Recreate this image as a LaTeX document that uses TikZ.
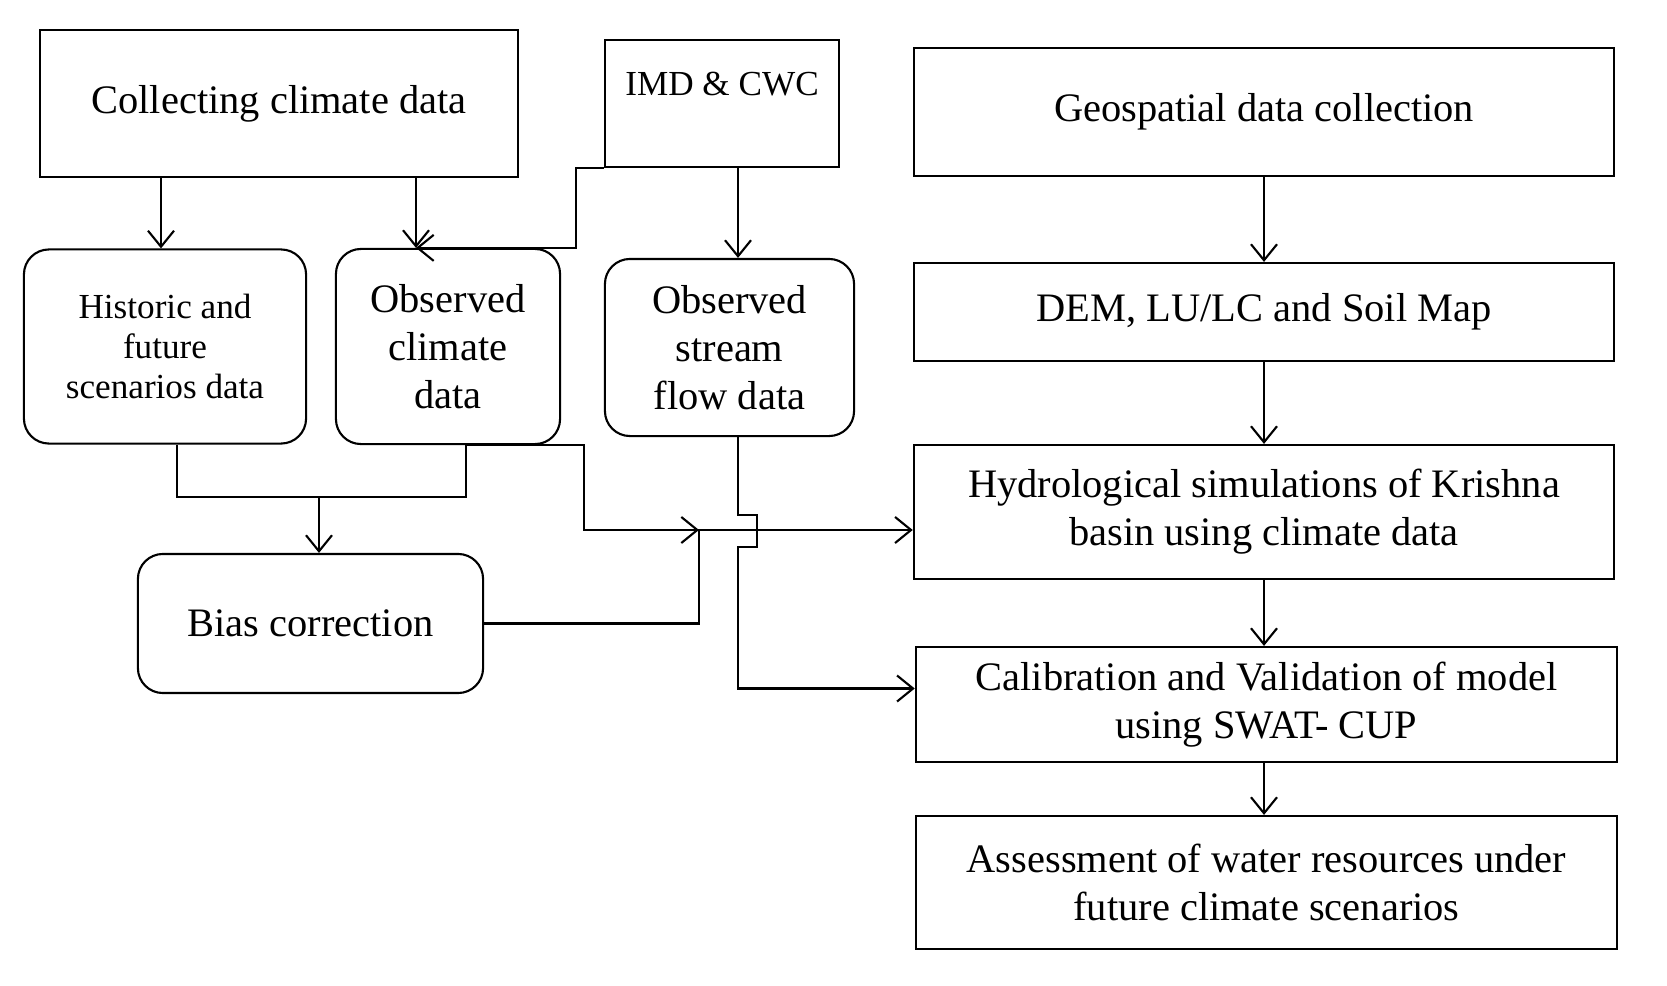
\documentclass[tikz,border=0pt]{standalone}
\usepackage{fontspec}
\setmainfont{Liberation Serif}
\usetikzlibrary{arrows.meta,calc}

\tikzset{
	box/.style={draw, line width=0.6pt, align=center, inner sep=2pt, font=\fontsize{11.5}{13.6}\selectfont},
	roundbox/.style={box, rounded corners=0.25cm},
	link/.style={line width=0.6pt},
	arr/.style={link, -{Straight Barb[length=1.6mm,width=2.6mm]}},
}

\begin{document}
\begin{tikzpicture}[x=0.01cm, y=-0.01cm]

	\useasboundingbox[fill=white] (0,0) rectangle (1667,985);

	%%% Climate side
	\node[box, minimum width=4.78cm, minimum height=1.47cm] (collect) at (279,103.5) {Collecting climate data};
	\node[box, minimum width=2.34cm, minimum height=1.27cm, font=\fontsize{10}{12}\selectfont, text height=0.27cm, text depth=0.42cm] (imd) at (722,103.5) {IMD \& CWC};
	\node[roundbox, minimum width=2.82cm, minimum height=1.94cm, font=\fontsize{10}{11.3}\selectfont] (hist) at (165,346.5) {Historic and\\future\\scenarios data};
	\node[roundbox, minimum width=2.24cm, minimum height=1.95cm] (obs) at (448,346.5) {Observed\\climate\\data};
	\node[roundbox, minimum width=2.49cm, minimum height=1.77cm] (stream) at (729.5,347.5) {Observed\\stream\\flow data};
	\node[roundbox, minimum width=3.45cm, minimum height=1.39cm] (bias) at (310.5,623.5) {Bias correction};

	%%% Model side
	\node[box, minimum width=7.00cm, minimum height=1.28cm] (geo) at (1264,112) {Geospatial data collection};
	\node[box, minimum width=7.00cm, minimum height=0.98cm] (dem) at (1264,312) {DEM, LU/LC and Soil Map};
	\node[box, minimum width=7.00cm, minimum height=1.34cm] (hydro) at (1264,512) {Hydrological simulations of Krishna\\basin using climate data};
	\node[box, minimum width=7.01cm, minimum height=1.15cm] (calib) at (1266.5,704.5) {Calibration and Validation of model\\using SWAT- CUP};
	\node[box, minimum width=7.01cm, minimum height=1.33cm] (assess) at (1266.5,882.5) {Assessment of water resources under\\future climate scenarios};

	%%% Link positions
	\coordinate (hx) at (161,0);
	\coordinate (ox) at (416,0);
	\coordinate (sx) at (738,0);
	\coordinate (lx) at (177,0);
	\coordinate (rx) at (466,0);
	\coordinate (jn) at (319,497);
	\coordinate (mid) at (699,530);
	\coordinate (hin) at ($(hydro.west)+(0,18)$);
	\coordinate (cin) at ($(calib.west)+(0,-16)$);

	%%% Climate links
	\draw[arr] (collect.south -| hx) -- (hist.north -| hx);
	\draw[arr] (collect.south -| ox) -- (obs.north -| ox);
	\draw[arr] (imd.south west) -- ++(-28,0) |- (obs.north -| ox);
	\draw[arr] (imd.south -| sx) -- (stream.north -| sx);

	\draw[link] (hist.south -| lx) -- (lx |- jn) -- (rx |- jn) -- (obs.south -| rx);
	\draw[arr] (jn) -- (jn |- bias.north);

	\draw[arr] (obs.south -| rx) -- ++(118,0) |- (mid);
	\draw[arr] (bias.east) -| (mid) -- (hin);

	%%% Stream flow link (with hop)
	\draw[arr] (stream.south -| sx) -- ++(0,78) -- ++(19,0) -- ++(0,32) -- ++(-19,0) |- (cin);

	%%% Model links
	\draw[arr] (geo.south) -- (dem.north);
	\draw[arr] (dem.south) -- (hydro.north);
	\draw[arr] (hydro.south) -- (hydro.south |- calib.north);
	\draw[arr] (calib.south -| hydro.south) -- (assess.north -| hydro.south);

\end{tikzpicture}
\end{document}
